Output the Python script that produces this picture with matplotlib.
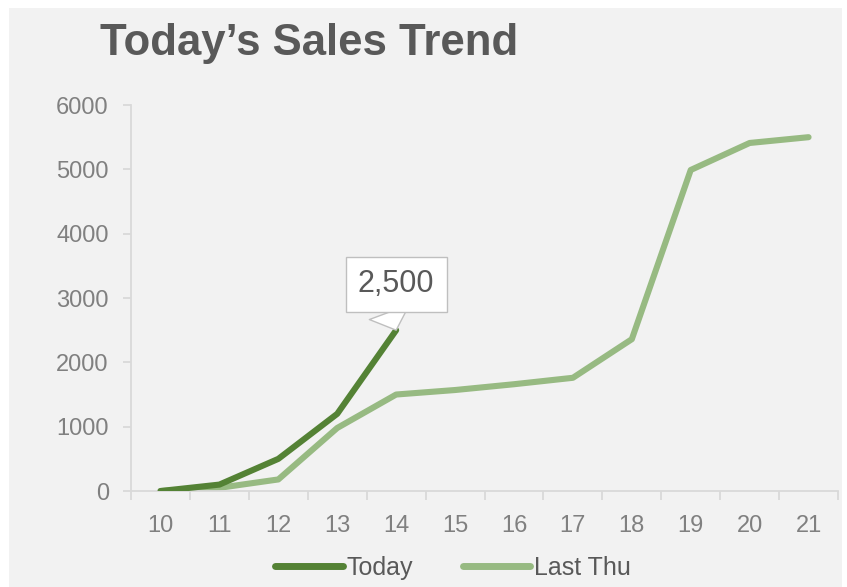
import matplotlib.pyplot as plt
from matplotlib.patches import Rectangle

# hourly cumulative sales
hours = [10, 11, 12, 13, 14, 15, 16, 17, 18, 19, 20, 21]
today = [0, 100, 500, 1200, 2500]
last_thu = [0, 50, 180, 980, 1500, 1570, 1660, 1760, 2360, 4990, 5410, 5500]
yticks = [0, 1000, 2000, 3000, 4000, 5000, 6000]

plt.rcParams['font.family'] = ['Liberation Sans', 'DejaVu Sans']

fig = plt.figure(figsize=(8.47, 5.87), dpi=100, facecolor='white')
fig.patches.append(Rectangle((0.0106, 0), 0.9834, 0.986, transform=fig.transFigure,
                             facecolor='#f2f2f2', edgecolor='none', zorder=-1))

ax = fig.add_axes([0.1547, 0.1635, 0.8347, 0.6576])
ax.set_facecolor('none')

ax.plot(hours, last_thu, color='#97ba82', lw=4.4, solid_capstyle='round',
        solid_joinstyle='round', label='Last Thu', zorder=2)
ax.plot(hours[:len(today)], today, color='#548235', lw=4.4, solid_capstyle='round',
        solid_joinstyle='round', label='Today', zorder=3)

ax.set_xlim(9.5, 21.5)
ax.set_ylim(0, 6000)
ax.set_xticks(hours)
ax.set_xticks([h - 0.5 for h in hours] + [hours[-1] + 0.5], minor=True)
ax.set_yticks(yticks)
ax.set_yticklabels([str(v) for v in yticks])

for s in ['top', 'right']:
    ax.spines[s].set_visible(False)
for s in ['left', 'bottom']:
    ax.spines[s].set_color('#d9d9d9')
    ax.spines[s].set_linewidth(1.3)

ax.tick_params(axis='x', which='major', length=0, pad=17, labelsize=17, labelcolor='#808080')
ax.tick_params(axis='x', which='minor', length=6.5, width=1.3, color='#d9d9d9')
ax.tick_params(axis='y', length=6, width=1.3, color='#d9d9d9', pad=10,
               labelsize=17, labelcolor='#808080')

# callout on the latest value
ax.annotate(f'{today[-1]:,}', xy=(hours[len(today) - 1], today[-1]),
            xytext=(0, 33), textcoords='offset points', ha='center', va='center',
            fontsize=22, color='#595959',
            bbox=dict(boxstyle='square,pad=0.4', fc='white', ec='#bfbfbf', lw=1),
            arrowprops=dict(arrowstyle='wedge,tail_width=1.4', fc='white', ec='#bfbfbf',
                            lw=1, shrinkA=0, shrinkB=0, relpos=(0.35, 0)),
            zorder=5)

fig.text(0.118, 0.906, 'Today\u2019s Sales Trend', fontsize=31.5, fontweight='bold',
         color='#595959', va='baseline', ha='left')

handles, labels = ax.get_legend_handles_labels()
leg = fig.legend(handles[::-1], labels[::-1], loc='center', bbox_to_anchor=(0.535, 0.032),
                 ncol=2, frameon=False, fontsize=18, handlelength=2.7,
                 handletextpad=0.15, columnspacing=2.0, labelcolor='#595959')
for line in leg.get_lines():
    line.set_linewidth(5)

fig.savefig('out.png', dpi=100, facecolor='white')
